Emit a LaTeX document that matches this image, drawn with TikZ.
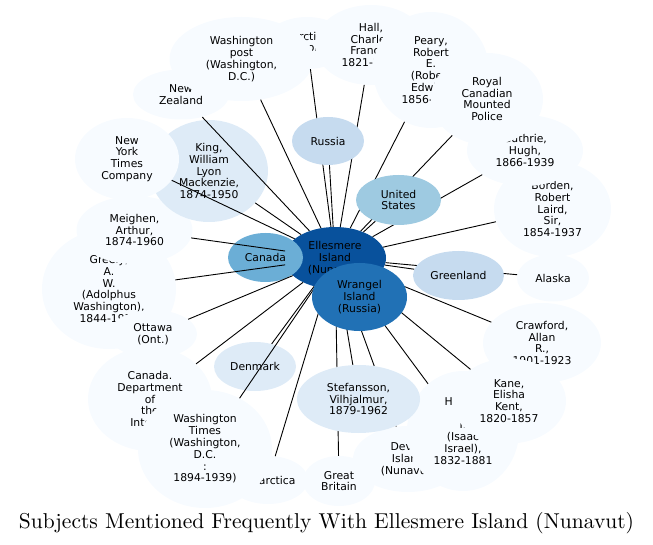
\documentclass[tikz,border=0pt]{standalone}
\usepackage{fontspec}
\newfontfamily\dvs{DejaVu Sans}
\newfontfamily\ttl{lmroman10-regular.otf}
\usetikzlibrary{shapes.geometric}
\definecolor{c0}{HTML}{F7FBFF}
\definecolor{c1}{HTML}{DEEBF7}
\definecolor{c2}{HTML}{C6DBEF}
\definecolor{c3}{HTML}{9ECAE1}
\definecolor{c4}{HTML}{6BAED6}
\definecolor{c5}{HTML}{2171B5}
\definecolor{c6}{HTML}{08519C}
\tikzset{
  sub/.style={ellipse, draw=none, inner sep=0pt, align=center, text=black,
    font=\dvs\fontsize{10.8}{11.8}\selectfont},
  sz/.style 2 args={minimum width=#1pt, minimum height=#2pt},
  edge/.style={draw=black, line width=0.9pt},
  titletext/.style={font=\ttl\fontsize{21.5}{25}\selectfont, inner sep=0pt}
}
\begin{document}
\begin{tikzpicture}[x=1pt,y=-1pt]
\useasboundingbox (0,0) rectangle (653,545);
% lower layer
\node[sub, fill=c0, sz={96}{50}] (nz) at (181,94.5) {New\\Zealand};
\node[sub, fill=c0, sz={84}{52}] (arc) at (307,43) {Arctic\\regions};
\node[sub, fill=c0, sz={144}{84}] (wp) at (241.5,59) {Washington\\post\\(Washington,\\D.C.)};
\node[sub, fill=c0, sz={112}{80}] (hall) at (371,45) {Hall,\\Charles\\Francis,\\1821-1871};
\node[sub, fill=c0, sz={116}{116}] (peary) at (431,70) {Peary,\\Robert\\E.\\(Robert\\Edwin),\\1856-1920};
\node[sub, fill=c0, sz={117}{96}] (borden) at (552.5,209) {Borden,\\Robert\\Laird,\\Sir,\\1854-1937};
\node[sub, fill=c0, sz={116}{71}] (guthrie) at (525,150.5) {Guthrie,\\Hugh,\\1866-1939};
\node[sub, fill=c0, sz={112}{92}] (rcmp) at (487,99) {Royal\\Canadian\\Mounted\\Police};
\node[sub, fill=c0, sz={118}{80}] (crawford) at (542,343) {Crawford,\\Allan\\R.,\\1901-1923};
\node[sub, fill=c0, sz={110}{66}] (devon) at (408,459) {Devon\\Island\\(Nunavut)};
\node[sub, fill=c0, sz={112}{120}] (hayes) at (463,431) {Hayes,\\I.\\I.\\(Isaac\\Israel),\\1832-1881};
\node[sub, fill=c0, sz={114}{85}] (kane) at (509,401) {Kane,\\Elisha\\Kent,\\1820-1857};
\node[sub, fill=c0, sz={72}{47}] (alaska) at (553,278) {Alaska};
\node[sub, fill=c0, sz={72}{50}] (gb) at (339,481) {Great\\Britain};
\node[sub, fill=c0, sz={80}{48}] (ant) at (268,480) {Antarctica};
\node[sub, fill=c0, sz={124}{104}] (cdi) at (150,399) {Canada.\\Department\\of\\the\\Interior};
\node[sub, fill=c0, sz={134}{118}] (wt) at (205,449) {Washington\\Times\\(Washington,\\D.C.\\:\\1894-1939)};
\node[sub, fill=c0, sz={134}{120}] (greely) at (109,289) {Greely,\\A.\\W.\\(Adolphus\\Washington),\\1844-1935};
\node[sub, fill=c0, sz={88}{48}] (ottawa) at (153,334) {Ottawa\\(Ont.)};
\node[sub, fill=c0, sz={116}{68}] (meighen) at (134.5,230) {Meighen,\\Arthur,\\1874-1960};
\node[sub, fill=c1, sz={118}{102}] (king) at (209,171) {King,\\William\\Lyon\\Mackenzie,\\1874-1950};
\node[sub, fill=c0, sz={104}{82}] (nyt) at (127,159) {New\\York\\Times\\Company};
\node[sub, fill=c1, sz={82}{49}] (denmark) at (255,366.5) {Denmark};
\node[sub, fill=c6, sz={102}{62}] (ell) at (335,258) {Ellesmere\\Island\\(Nunavut)};
\node[sub, fill=c4, sz={75}{49}] (canada) at (265.5,257.5) {Canada};
% upper-layer nodes (placed now, drawn after the edges)
\path (328,141) coordinate (russiaC) (398.5,200) coordinate (usC)
      (458.5,275.5) coordinate (greenC) (358.5,399) coordinate (stefC)
      (359.5,297) coordinate (wrangelC);
\node[sub, sz={72}{48}] (russia) at (russiaC) {\phantom{Russia}};
\node[sub, sz={85}{50}] (us) at (usC) {\phantom{States}};
\node[sub, sz={91}{49}] (greenland) at (greenC) {\phantom{Greenland}};
\node[sub, sz={123}{68}] (stef) at (stefC) {\phantom{Stefansson,}};
% edges
\foreach \t in {nz,arc,wp,hall,peary,borden,guthrie,rcmp,crawford,devon,hayes,kane,
  alaska,gb,ant,cdi,wt,greely,ottawa,meighen,king,nyt,denmark,russia,us,greenland,stef}
  \draw[edge] (ell) -- (\t);
% upper layer
\node[sub, fill=c2, sz={72}{48}] (russiaN) at (russiaC) {Russia};
\node[sub, fill=c3, sz={85}{50}] (usN) at (usC) {United\\States};
\node[sub, fill=c2, sz={91}{49}] (greenN) at (greenC) {Greenland};
\node[sub, fill=c1, sz={123}{68}] (stefN) at (stefC) {Stefansson,\\Vilhjalmur,\\1879-1962};
\node[sub, fill=c5, sz={95}{68}] (wrangel) at (wrangelC) {Wrangel\\Island\\(Russia)};
% title
\node[titletext] (title) at (326.5,523) {Subjects Mentioned Frequently With Ellesmere Island (Nunavut)};
\end{tikzpicture}
\end{document}
